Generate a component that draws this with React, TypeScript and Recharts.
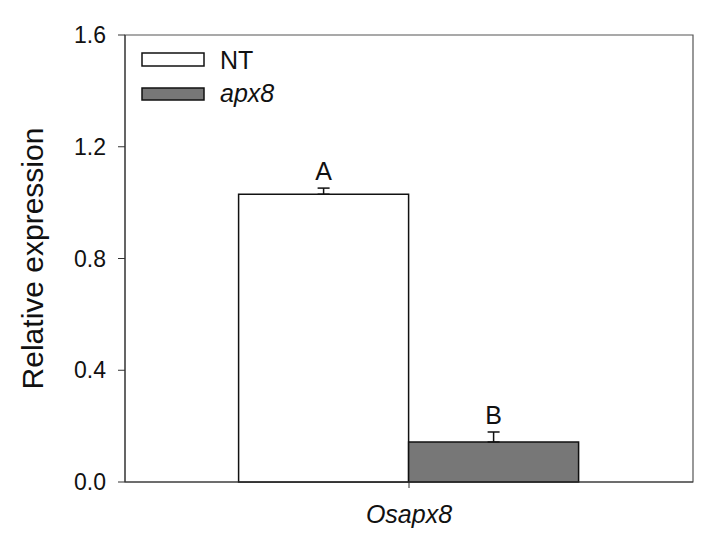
import React from 'react';
import { BarChart, Bar, XAxis, YAxis, ErrorBar, LabelList, Legend, ReferenceArea } from 'recharts';

// qPCR result: relative expression of Osapx8 in NT vs apx8 lines
const genes = ['Osapx8'];
const ntMean = [1.03];
const ntSe = [0.022];
const apxMean = [0.143];
const apxSe = [0.036];
const ntLetters = ['A'];
const apxLetters = ['B'];
const yTicks = [0, 0.4, 0.8, 1.2, 1.6];

const data = genes.map((g, i) => ({
  gene: g,
  nt: ntMean[i],
  ntErr: [0, ntSe[i]],
  apx: apxMean[i],
  apxErr: [0, apxSe[i]],
}));

const FONT = '"Liberation Sans", Arial, sans-serif';

// letter sits just above the error bar cap
const letterLabel = (letters, errs, means) => (props) => {
  const { x, y, width, height, index } = props;
  const capY = y - (errs[index] / means[index]) * height;
  return (
    <text
      x={x + width / 2}
      y={capY - 8}
      textAnchor="middle"
      fontSize={25}
      fontFamily={FONT}
      fill="#111"
    >
      {letters[index]}
    </text>
  );
};

const LegendBox = () => (
  <svg width={300} height={120} style={{ display: 'block' }}>
    <rect x={142} y={53} width={62} height={13} fill="#fff" stroke="#111" strokeWidth={1.5} />
    <text x={220} y={69} fontSize={25} fontFamily={FONT} fill="#111">NT</text>
    <rect x={142} y={88} width={62} height={12} fill="#777" stroke="#111" strokeWidth={1.5} />
    <text x={220} y={102} fontSize={25} fontFamily={FONT} fontStyle="italic" fill="#111">apx8</text>
  </svg>
);

const YLabel = ({ viewBox }) => {
  const cx = 43;
  const cy = viewBox.y + viewBox.height / 2;
  return (
    <text
      x={cx}
      y={cy}
      transform={`rotate(-90, ${cx}, ${cy})`}
      textAnchor="middle"
      fontSize={30}
      fontFamily={FONT}
      fill="#111"
    >
      Relative expression
    </text>
  );
};

const App = () => {
  return (
    <div style={{ position: 'absolute', left: 0, top: 0, width: 728, height: 552, background: '#fff' }}>
      <BarChart
        width={728}
        height={552}
        data={data}
        margin={{ top: 35, right: 35, bottom: 0, left: 0 }}
        barCategoryGap="20%"
        barGap={0}
        style={{ fontFamily: FONT }}
      >
        <ReferenceArea y1={0} y2={1.6} fill="none" stroke="#555" strokeWidth={1.2} />
        <XAxis
          dataKey="gene"
          height={70}
          stroke="#333"
          tickSize={6}
          tickMargin={17}
          tick={{ fontSize: 25, fontStyle: 'italic', fill: '#111', fontFamily: FONT }}
        />
        <YAxis
          width={125}
          domain={[0, 1.6]}
          ticks={yTicks}
          stroke="#333"
          tickSize={7}
          tickMargin={12}
          tickFormatter={(v) => v.toFixed(1)}
          tick={{ fontSize: 23, fill: '#111', fontFamily: FONT }}
          label={<YLabel />}
        />
        <Legend
          layout="vertical"
          align="center"
          verticalAlign="middle"
          content={<LegendBox />}
          wrapperStyle={{ position: 'absolute', left: 0, top: 0, width: 300, height: 120 }}
        />
        <Bar dataKey="nt" fill="#ffffff" stroke="#111" strokeWidth={1.5} isAnimationActive={false}>
          <ErrorBar dataKey="ntErr" direction="y" width={6} stroke="#111" strokeWidth={1.5} />
          <LabelList content={letterLabel(ntLetters, ntSe, ntMean)} />
        </Bar>
        <Bar dataKey="apx" fill="#777" stroke="#111" strokeWidth={1.5} isAnimationActive={false}>
          <ErrorBar dataKey="apxErr" direction="y" width={6} stroke="#111" strokeWidth={1.5} />
          <LabelList content={letterLabel(apxLetters, apxSe, apxMean)} />
        </Bar>
      </BarChart>
    </div>
  );
};

export default App;
